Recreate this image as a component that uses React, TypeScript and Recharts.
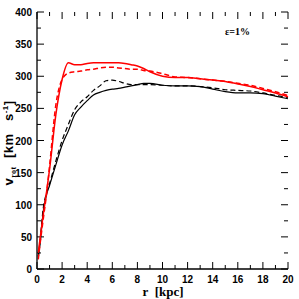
import React from 'react';
import { LineChart, Line, XAxis, YAxis, ReferenceLine } from 'recharts';

// radius in kpc, rotation velocity in km/s
const radius = [0.1, 0.25, 0.5, 0.75, 1, 1.5, 2, 2.5, 3, 3.5, 4, 4.5, 5, 5.5, 6, 6.5, 7, 7.5, 8, 8.5, 9, 10, 11, 12, 13, 14, 15, 16, 17, 18, 19, 20];
const redSolid = [25, 48, 85, 118, 155, 240, 295, 321, 318, 318, 320, 321, 321, 321, 321, 321, 320, 318, 316, 312, 307, 300, 298, 298, 296, 294, 292, 288, 284, 279, 274, 268];
const redDashed = [15, 40, 78, 115, 160, 255, 295, 305, 307, 308, 310, 311, 313, 314, 314, 313, 312, 311, 311, 309, 308, 304, 299, 298, 296, 294, 292, 289, 286, 281, 276, 270];
const blackSolid = [18, 40, 90, 115, 130, 162, 193, 215, 240, 252, 262, 271, 275, 278, 280, 281, 283, 285, 287, 289, 289, 286, 285, 285, 284, 280, 276, 274, 274, 273, 269, 265];
const blackDashed = [20, 45, 95, 118, 133, 168, 200, 225, 248, 260, 268, 278, 285, 293, 294, 292, 289, 287, 287, 287, 287, 286, 285, 285, 284, 282, 279, 278, 277, 274, 270, 267];

const xMajor = [0, 2, 4, 6, 8, 10, 12, 14, 16, 18, 20];
const xMinor = [1, 3, 5, 7, 9, 11, 13, 15, 17, 19];
const yMajor = [0, 50, 100, 150, 200, 250, 300, 350, 400];
const yMinor = [25, 75, 125, 175, 225, 275, 325, 375];

const data = radius.map((r, i) => ({
  r,
  rs: redSolid[i],
  rd: redDashed[i],
  bs: blackSolid[i],
  bd: blackDashed[i],
}));

const tickFont = { fontFamily: 'Liberation Sans, Arial, sans-serif', fontSize: 10, fontWeight: 700 };

const BottomLabel = (props: any) => (
  <text x={props.x} y={props.y + 14} textAnchor="middle" {...tickFont} fill="#000">{props.payload.value}</text>
);
const LeftLabel = (props: any) => (
  <text x={props.x - 5} y={props.y + 4} textAnchor="end" {...tickFont} fill="#000">{props.payload.value}</text>
);

// inward tick marks at both ends of a reference line
const tickShape = (len: number) => (p: any) => {
  const { x1, y1, x2, y2 } = p;
  if (Math.abs(x1 - x2) < 0.01) {
    const top = Math.min(y1, y2);
    const bot = Math.max(y1, y2);
    return (
      <path d={`M${x1},${top}V${top + len}M${x1},${bot}V${bot - len}`} stroke="#000" strokeWidth={1} fill="none" />
    );
  }
  const lft = Math.min(x1, x2);
  const rgt = Math.max(x1, x2);
  return (
    <path d={`M${lft},${y1}H${lft + len}M${rgt},${y1}H${rgt - len}`} stroke="#000" strokeWidth={1} fill="none" />
  );
};

const axisLine = { stroke: '#000', strokeWidth: 1.3 };

export default function App() {
  return (
    <div style={{ position: 'absolute', left: 0, top: 0, width: 299, height: 299, background: '#fff' }}>
      <LineChart width={299} height={299} data={data} margin={{ top: 12, right: 11, bottom: 10, left: 7 }}>
        <XAxis dataKey="r" type="number" domain={[0, 20]} ticks={xMajor} interval={0} height={20}
          tickSize={0} tickMargin={0} tickLine={false} axisLine={axisLine} tick={BottomLabel} />
        <XAxis xAxisId="top" orientation="top" dataKey="r" type="number" domain={[0, 20]} ticks={xMajor} height={0}
          tickLine={false} axisLine={axisLine} tick={false} />
        <YAxis type="number" domain={[0, 400]} ticks={yMajor} interval={0} width={30}
          tickSize={0} tickMargin={0} tickLine={false} axisLine={axisLine} tick={LeftLabel} />
        <YAxis yAxisId="right" orientation="right" type="number" domain={[0, 400]} ticks={yMajor} width={0}
          tickLine={false} axisLine={axisLine} tick={false} />
        {xMajor.map((v) => <ReferenceLine key={`xM${v}`} x={v} shape={tickShape(7)} />)}
        {xMinor.map((v) => <ReferenceLine key={`xm${v}`} x={v} shape={tickShape(4)} />)}
        {yMajor.map((v) => <ReferenceLine key={`yM${v}`} y={v} shape={tickShape(7)} />)}
        {yMinor.map((v) => <ReferenceLine key={`ym${v}`} y={v} shape={tickShape(4)} />)}
        <Line type="monotone" dataKey="bs" stroke="#000" strokeWidth={1.2} dot={false} isAnimationActive={false} />
        <Line type="monotone" dataKey="bd" stroke="#000" strokeWidth={1.2} strokeDasharray="5 3" dot={false} isAnimationActive={false} />
        <Line type="monotone" dataKey="rs" stroke="#ff0000" strokeWidth={1.5} dot={false} isAnimationActive={false} />
        <Line type="monotone" dataKey="rd" stroke="#ff0000" strokeWidth={1.5} strokeDasharray="5 3" dot={false} isAnimationActive={false} />
      </LineChart>
      <div style={{ position: 'absolute', left: 225, top: 26, fontFamily: 'Liberation Serif, serif', fontWeight: 700, fontSize: 10, whiteSpace: 'nowrap' }}>
        ε=1%
      </div>
      <div style={{ position: 'absolute', left: 163, top: 292, transform: 'translate(-50%, -50%)', fontFamily: 'Liberation Serif, serif', fontWeight: 700, fontSize: 13, whiteSpace: 'nowrap' }}>
        r&nbsp;&nbsp;[kpc]
      </div>
      <div style={{ position: 'absolute', left: 10, top: 143, transform: 'translate(-50%, -50%) rotate(-90deg)', fontFamily: 'Liberation Sans, Arial, sans-serif', fontWeight: 700, fontSize: 13, whiteSpace: 'nowrap', lineHeight: '14px', letterSpacing: 0.5 }}>
        v<sub style={{ fontSize: 8, fontFamily: 'Liberation Serif, serif' }}>rot</sub>&nbsp;&nbsp;[km&nbsp;&nbsp;&nbsp;s<sup style={{ fontSize: 8 }}>-1</sup>]
      </div>
    </div>
  );
}
